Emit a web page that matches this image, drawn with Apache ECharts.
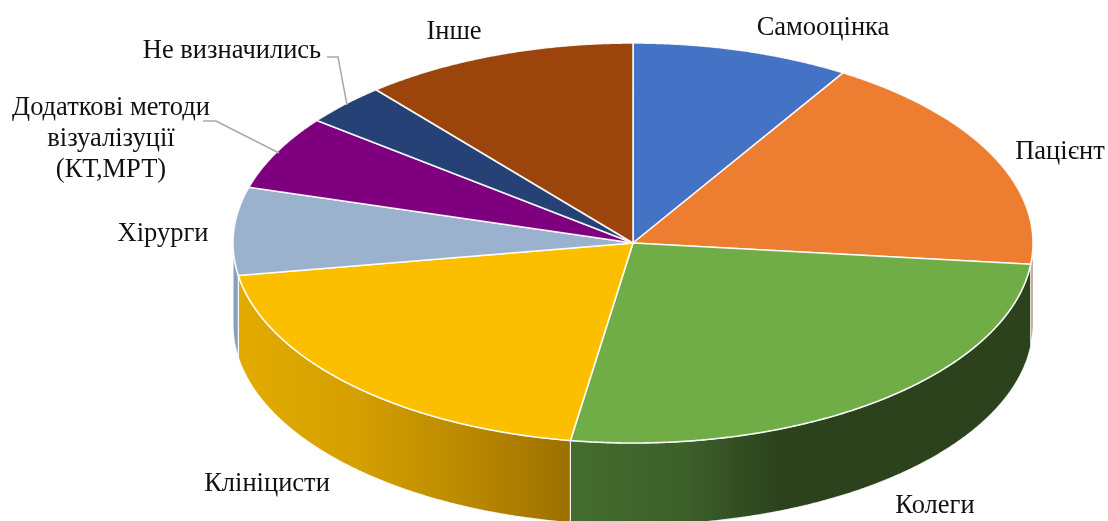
<!DOCTYPE html>
<html>
<head>
<meta charset="utf-8">
<style>html,body{margin:0;padding:0;background:#fff}#c{width:1108px;height:521px}</style>
<script src="https://cdn.jsdelivr.net/npm/echarts@6/dist/echarts.min.js"></script>
</head>
<body>
<div id="c"></div>
<script>
// Data (share of answers, %)
const categories = ['Самооцінка','Пацієнт','Колеги','Клініцисти','Хірурги','Додаткові методи\nвізуалізуції\n(КТ,МРТ)','Не визначились','Інше'];
const shares = [8.8, 17.9, 25.8, 19.9, 7.1, 6.0, 3.4, 11.1];

// Styling
const topColors = ['#4472c4','#ed7d31','#70ad47','#fbbf00','#9ab2ce','#7f007f','#254175','#9b450c'];
const wallStops = {
  1: [[0,'#a5683f'],[1,'#8a5636']],
  2: [[0,'#456d2f'],[0.25,'#3d5f2a'],[0.46,'#2b421c'],[1,'#2b421c']],
  3: [[0,'#e2ab00'],[0.35,'#d5a000'],[0.7,'#b98800'],[1,'#9c7000']],
  4: [[0,'#8aa0b8'],[1,'#8aa0b8']]
};

// Layout
const CX = 633, CY = 243, RX = 400, RY = 200, DEPTH = 82;
const labelCenters = [[823,28],[1060,152],[935,506],[267,484],[163,234],[111,139],[232,51],[454,32]];
const leaderLines = {
  5: [[203,121],[216,121],[279,153]],
  6: [[327,57],[338,57],[347,105]]
};

const total = shares.reduce((a,b)=>a+b,0);
function startAngle(i){ let s=0; for(let k=0;k<i;k++) s+=shares[k]; return s/total*Math.PI*2; }
function endAngle(i){ return startAngle(i+1); }
function rim(t,dy){ return [CX+RX*Math.sin(t), CY-RY*Math.cos(t)+(dy||0)]; }
function arc(a,b,dy){ const n=Math.max(2,Math.ceil((b-a)/0.005)); const p=[]; for(let i=0;i<=n;i++) p.push(rim(a+(b-a)*i/n,dy)); return p; }

function renderWall(params, api){
  const i=params.dataIndex;
  const a=Math.max(startAngle(i),Math.PI/2), b=Math.min(endAngle(i),Math.PI*1.5);
  if(b<=a||!wallStops[i]) return {type:'group',children:[]};
  const pts=arc(a,b,0).concat(arc(a,b,DEPTH).reverse());
  return {type:'polygon',shape:{points:pts},style:{
    fill:{type:'linear',x:0,y:0,x2:1,y2:0,colorStops:wallStops[i].map(s=>({offset:s[0],color:s[1]}))},
    stroke:'rgba(255,255,255,0.85)',lineWidth:1.2,lineJoin:'round'}};
}
function renderTop(params, api){
  const i=params.dataIndex;
  const pts=[[CX,CY]].concat(arc(startAngle(i),endAngle(i),0));
  return {type:'polygon',shape:{points:pts},style:{fill:topColors[i],stroke:'rgba(255,255,255,0.9)',lineWidth:1.6,lineJoin:'round'}};
}
function renderLabel(params, api){
  const i=params.dataIndex;
  const children=[{type:'text',style:{text:categories[i],x:labelCenters[i][0],y:labelCenters[i][1],
    textAlign:'center',textVerticalAlign:'middle',fill:'#111',fontFamily:'"Liberation Serif"',fontSize:26.5,lineHeight:31}}];
  if(leaderLines[i]) children.unshift({type:'polyline',shape:{points:leaderLines[i]},style:{fill:'none',stroke:'#a9a9a9',lineWidth:1.5}});
  return {type:'group',children};
}

const data = categories.map((c,i)=>({name:c,value:shares[i]}));
const base = {type:'custom',coordinateSystem:'none',silent:true,animation:false,data,encode:{value:0}};
const chart = echarts.init(document.getElementById('c'),null,{renderer:'canvas'});
chart.setOption({
  backgroundColor:'#fff',animation:false,
  series:[
    Object.assign({},base,{z:1,renderItem:renderWall}),
    Object.assign({},base,{z:2,renderItem:renderTop}),
    Object.assign({},base,{z:3,renderItem:renderLabel})
  ]
});
</script>
</body>
</html>
